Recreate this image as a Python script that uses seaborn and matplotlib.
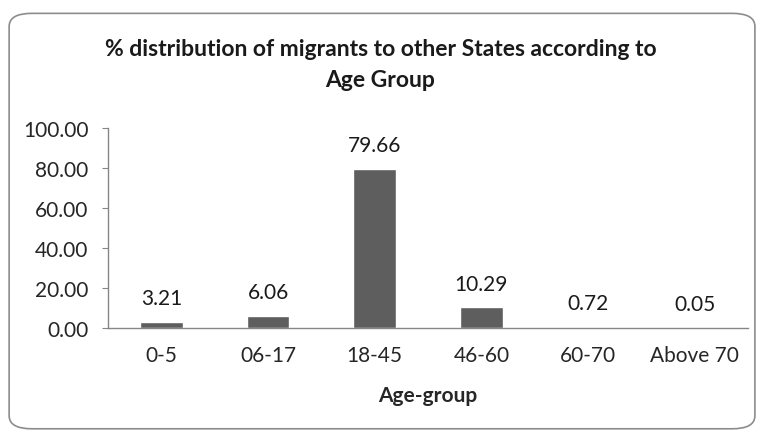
import pandas as pd
import matplotlib.pyplot as plt
import seaborn as sns
from matplotlib.patches import FancyBboxPatch

age_groups = ["0-5", "06-17", "18-45", "46-60", "60-70", "Above 70"]
percent = [3.21, 6.06, 79.66, 10.29, 0.72, 0.05]
y_ticks = [0, 20, 40, 60, 80, 100]

data = pd.DataFrame({"Age-group": age_groups, "Percent": percent})

sns.set_style("white")
plt.rcParams['font.family'] = ['Lato', 'DejaVu Sans']
plt.rcParams['text.color'] = '#1a1a1a'

f = plt.figure(figsize=(7.61, 4.35), dpi=100)
f.set_facecolor("white")

# rounded chart-area border
border = FancyBboxPatch((0.012, 0.012), 0.98, 0.955,
                        boxstyle="round,pad=0,rounding_size=0.03",
                        transform=f.transFigure, fill=False,
                        edgecolor="#8c8c8c", linewidth=1.2)
f.patches.append(border)

ax = f.add_axes([0.142, 0.2437, 0.841, 0.4597])
sns.barplot(x="Age-group", y="Percent", data=data, color="#5e5e5e",
            width=0.4, saturation=1, ax=ax)

for i, v in enumerate(percent):
    ax.annotate(f"{v:.2f}", (i, v), xytext=(0, 10), textcoords="offset points",
                ha="center", va="bottom", fontsize=15)

ax.set_ylim(0, 100)
ax.set_yticks(y_ticks)
ax.set_yticklabels([f"{t:.2f}" for t in y_ticks], fontsize=15)
ax.tick_params(axis="x", length=0, labelsize=15, pad=12)
ax.tick_params(axis="y", length=4, color="#868686", direction="out", pad=10, left=True)
for s in ["top", "right"]:
    ax.spines[s].set_visible(False)
for s in ["left", "bottom"]:
    ax.spines[s].set_color("#868686")
    ax.spines[s].set_linewidth(1)

ax.set_xlabel("Age-group", fontsize=15, fontweight="bold", labelpad=15)
ax.set_ylabel("")
f.text(0.5, 0.85, "% distribution of migrants to other States according to\nAge Group",
       ha="center", va="center", fontsize=16.5, fontweight="bold", linespacing=1.6)

plt.savefig("out.png", dpi=100)
